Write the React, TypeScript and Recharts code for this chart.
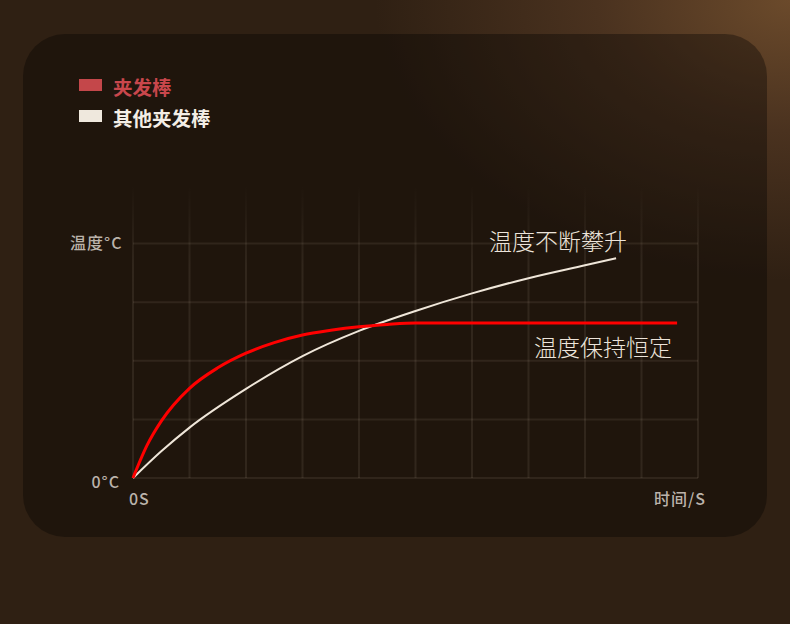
import React from "react";
import { LineChart, Line, XAxis, YAxis, CartesianGrid } from "recharts";

// time (grid units) and temperature (grid units)
const heatTime = [0, 0.25, 0.5, 1, 1.5, 2, 2.5, 3, 3.5, 4, 4.5, 5, 9.63];
const heatTemp = [0, 0.56, 0.97, 1.53, 1.88, 2.13, 2.31, 2.44, 2.52, 2.58, 2.62, 2.645, 2.645];

const otherTime = [0, 0.5, 1, 2, 3, 4, 5, 6, 7, 8, 8.55];
const otherTemp = [0, 0.455, 0.86, 1.52, 2.08, 2.51, 2.85, 3.15, 3.41, 3.63, 3.75];

const xTicks = [0, 1, 2, 3, 4, 5, 6, 7, 8, 9, 10];
const yTicks = [0, 1, 2, 3, 4];
const Y_MAX = 5;

const legendItems = [
  { name: "夹发棒", color: "#c4474a", text: "#c9474c" },
  { name: "其他夹发棒", color: "#efe8dd", text: "#f4eee6" },
];

const heatData = heatTime.map((t, i) => ({ t, v: heatTemp[i] }));
const otherData = otherTime.map((t, i) => ({ t, v: otherTemp[i] }));

const FONT = '"Noto Sans CJK SC", "Noto Sans", sans-serif';

function Txt({ x, cy, size, color, weight = 400, spacing = 0, children, align = "left" }: any) {
  const style: React.CSSProperties = {
    position: "absolute",
    top: cy - size,
    height: size * 2,
    lineHeight: `${size * 2}px`,
    fontSize: size,
    color,
    fontWeight: weight,
    letterSpacing: spacing,
    fontFamily: FONT,
    whiteSpace: "nowrap",
  };
  if (align === "right") style.right = 790 - x;
  else style.left = x;
  return <div style={style}>{children}</div>;
}

// horizontal grid only at the labelled temperature steps, not at the top edge
const hLines = ({ offset }: any) =>
  offset ? yTicks.map((t) => offset.top + offset.height * (1 - t / Y_MAX)) : [];

export default function App() {
  return (
    <div
      style={{
        position: "fixed",
        left: 0,
        top: 0,
        width: 790,
        height: 624,
        overflow: "hidden",
        background:
          "radial-gradient(ellipse 70% 60% at 100% 0%, #6b4a2b 0%, #4a321f 35%, #2f2013 75%), #2e1f12",
        fontFamily: FONT,
      }}
    >
      <div
        style={{
          position: "absolute",
          left: 23,
          top: 34,
          width: 744,
          height: 503,
          borderRadius: 42,
          background: "rgba(0,0,0,0.34)",
        }}
      />

      {legendItems.map((it, i) => (
        <React.Fragment key={it.name}>
          <div
            style={{
              position: "absolute",
              left: 79,
              top: 79 + i * 31,
              width: 23,
              height: 12,
              background: it.color,
            }}
          />
          <Txt x={113} cy={86 + i * 31} size={19.5} color={it.text} weight={700}>
            {it.name}
          </Txt>
        </React.Fragment>
      ))}

      <div style={{ position: "absolute", left: 0, top: 0 }}>
        <LineChart
          width={790}
          height={624}
          margin={{ left: 133, right: 92, top: 185, bottom: 146 }}
        >
          <defs>
            <linearGradient id="vfade" gradientUnits="userSpaceOnUse" x1="0" y1="185" x2="0" y2="265">
              <stop offset="0%" stopColor="#ffebd2" stopOpacity={0} />
              <stop offset="100%" stopColor="#ffebd2" stopOpacity={0.08} />
            </linearGradient>
          </defs>
          <XAxis type="number" dataKey="t" domain={[0, 10]} ticks={xTicks} hide />
          <YAxis type="number" dataKey="v" domain={[0, Y_MAX]} ticks={yTicks} hide />
          <CartesianGrid
            vertical={false}
            stroke="#ffebd2"
            strokeOpacity={0.08}
            strokeWidth={2}
            horizontalCoordinatesGenerator={hLines}
          />
          <CartesianGrid horizontal={false} stroke="url(#vfade)" strokeWidth={2} />
          <Line
            data={otherData}
            dataKey="v"
            type="monotone"
            stroke="#efe6d9"
            strokeWidth={2}
            dot={false}
            isAnimationActive={false}
          />
          <Line
            data={heatData}
            dataKey="v"
            type="monotone"
            stroke="#ff0000"
            strokeWidth={3}
            dot={false}
            isAnimationActive={false}
          />
        </LineChart>
      </div>

      <Txt x={70} cy={242} size={16} color="#bbb3ab" weight={500} spacing={1}>温度°C</Txt>
      <Txt x={120} cy={481} size={16} color="#bbb3ab" weight={500} spacing={1} align="right">0°C</Txt>
      <Txt x={129} cy={498} size={16} color="#bbb3ab" weight={500} spacing={1}>0S</Txt>
      <Txt x={654} cy={498} size={16} color="#bbb3ab" weight={500} spacing={1}>时间/S</Txt>
      <Txt x={489} cy={240} size={23} color="#ece4da" weight={300}>温度不断攀升</Txt>
      <Txt x={534} cy={346} size={23} color="#ece4da" weight={300}>温度保持恒定</Txt>
    </div>
  );
}
